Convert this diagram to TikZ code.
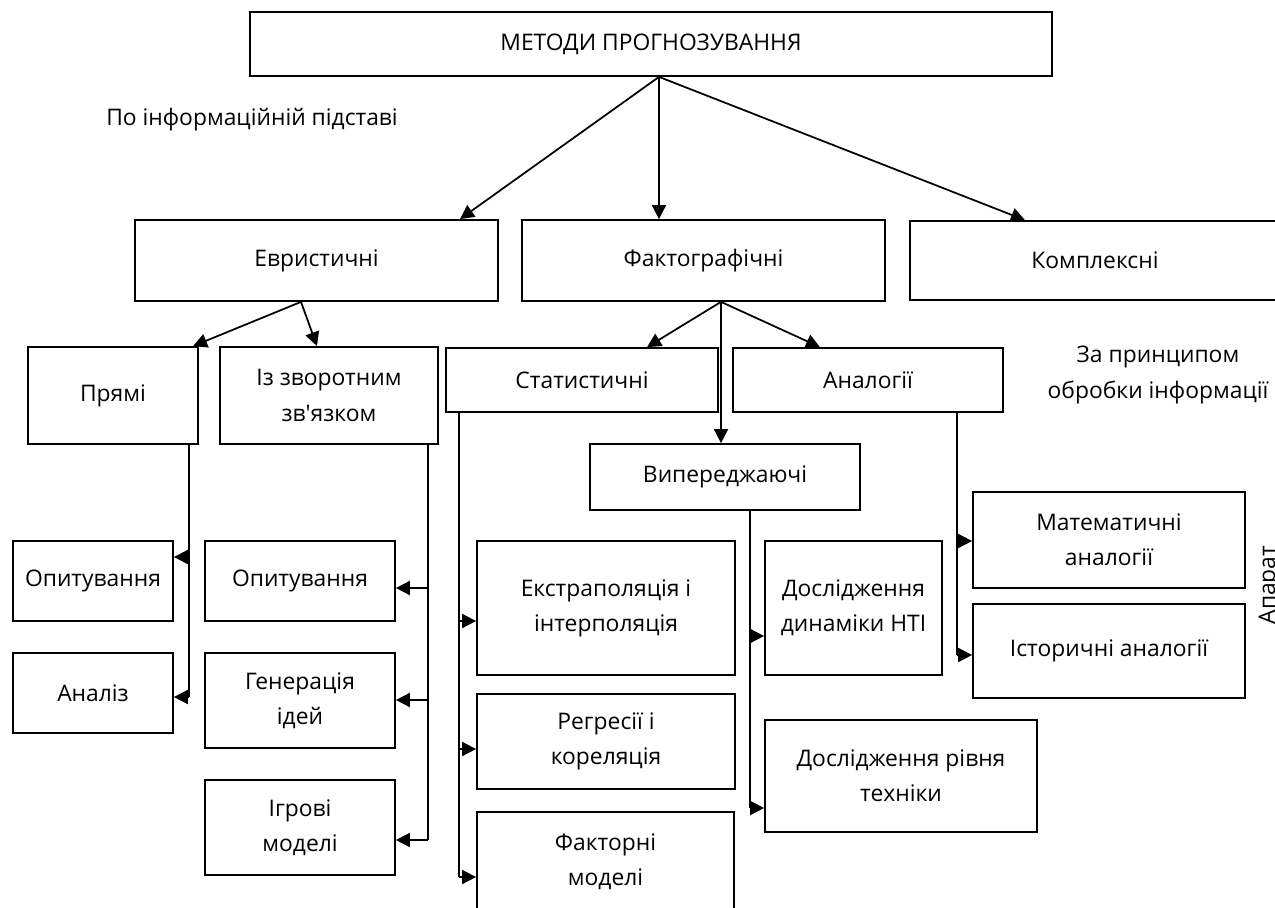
\documentclass[tikz,border=0pt]{standalone}
\usepackage{fontspec}
\setmainfont{Open Sans}
\newfontfamily\plainapos{Open Sans}[Ligatures=TeXOff]
\usetikzlibrary{arrows.meta}
\begin{document}
\begin{tikzpicture}[x=0.02cm,y=-0.02cm,
 every node/.style={font=\fontsize{13}{20}\selectfont, align=center},
 bx/.style 2 args={draw, line width=1pt, minimum width=#1*0.02cm, minimum height=#2*0.02cm, inner sep=0pt},
 ln/.style={line width=1pt},
 arr/.style={line width=1pt, -{Triangle[length=8pt,width=8pt]}}]
\useasboundingbox (0,0) rectangle (1275,907);
% level 0
\node[bx={802}{64}] (top) at (651,44) {МЕТОДИ ПРОГНОЗУВАННЯ};
\node (lbl1) at (252,120) {По інформаційній підставі};
% level 1
\node[bx={363}{81}] (evr) at (316.5,260.5) {Евристичні};
\node[bx={363}{81}] (fakt) at (703.5,260.5) {Фактографічні};
\node[bx={370}{79}] (kompl) at (1095,260.5) {Комплексні};
% level 2
\node[bx={170}{97}] (pr) at (113,395.5) {Прямі};
\node[bx={218}{97}] (zv) at (329,395.5) {Із зворотним\\зв{\plainapos '}язком};
\node[bx={272}{64}] (st) at (582,380) {Статистичні};
\node[bx={270}{64}] (an) at (868,380) {Аналогії};
\node[bx={270}{66}] (vy) at (725,477) {Випереджаючі};
\node (lbl2) at (1158,375) {За принципом\\обробки інформації};
\node[rotate=90, anchor=base] (lbl3) at (1275,585) {Апарат};
% level 3
\node[bx={160}{80}] (op1) at (93,581) {Опитування};
\node[bx={160}{80}] (anz) at (93,693) {Аналіз};
\node[bx={190}{80}] (op2) at (300,581) {Опитування};
\node[bx={190}{95}] (gen) at (300,700.5) {Генерація\\ідей};
\node[bx={190}{95}] (igr) at (300,827.5) {Ігрові\\моделі};
\node[bx={258}{134}] (ex) at (606,608) {Екстраполяція і\\інтерполяція};
\node[bx={258}{95}] (reg) at (606,741.5) {Регресії і\\кореляція};
\node[bx={257}{100}] (fm) at (605.5,862) {Факторні\\моделі};
\node[bx={177}{134}] (dyn) at (853.5,608) {Дослідження\\динаміки НТІ};
\node[bx={272}{112}] (riv) at (901,776) {Дослідження рівня\\техніки};
\node[bx={272}{96}] (mat) at (1109,540) {Математичні\\аналогії};
\node[bx={272}{94}] (ist) at (1109,651) {Історичні аналогії};
% connectors from top
\draw[arr] (top.south -| 659,0) -- (evr.north -| 460,0);
\draw[arr] (top.south -| 659,0) -- (fakt.north -| 659,0);
\draw[arr] (top.south -| 659,0) -- (kompl.north -| 1025,0);
\draw[arr] (evr.south -| 301,0) -- (pr.north -| 193,0);
\draw[arr] (evr.south -| 301,0) -- (zv.north -| 317,0);
\draw[arr] (fakt.south -| 721,0) -- (st.north -| 647,0);
\draw[arr] (fakt.south -| 721,0) -- (an.north -| 820,0);
\draw[arr] (fakt.south -| 721,0) -- (vy.north -| 721,0);
% Прямі branch
\draw[ln] (pr.south -| 189,0) -- (189,697);
\draw[arr] (189,557) -- (op1.east |- 0,557);
\draw[arr] (189,697) -- (anz.east |- 0,697);
% Із зворотним branch
\draw[ln] (zv.south -| 428,0) -- (428,840);
\draw[arr] (428,588) -- (op2.east |- 0,588);
\draw[arr] (428,700) -- (gen.east |- 0,700);
\draw[arr] (428,840) -- (igr.east |- 0,840);
% Статистичні branch
\draw[ln] (st.south -| 459,0) -- (459,877);
\draw[arr] (459,621) -- (ex.west |- 0,621);
\draw[arr] (459,749) -- (reg.west |- 0,749);
\draw[arr] (459,877) -- (fm.west |- 0,877);
% Випереджаючі branch
\draw[ln] (vy.south -| 750,0) -- (750,808);
\draw[arr] (750,636) -- (dyn.west |- 0,636);
\draw[arr] (750,808) -- (riv.west |- 0,808);
% Аналогії branch
\draw[ln] (an.south -| 957,0) -- (957,655);
\draw[arr] (957,541) -- (mat.west |- 0,541);
\draw[arr] (957,655) -- (ist.west |- 0,655);
\end{tikzpicture}
\end{document}
